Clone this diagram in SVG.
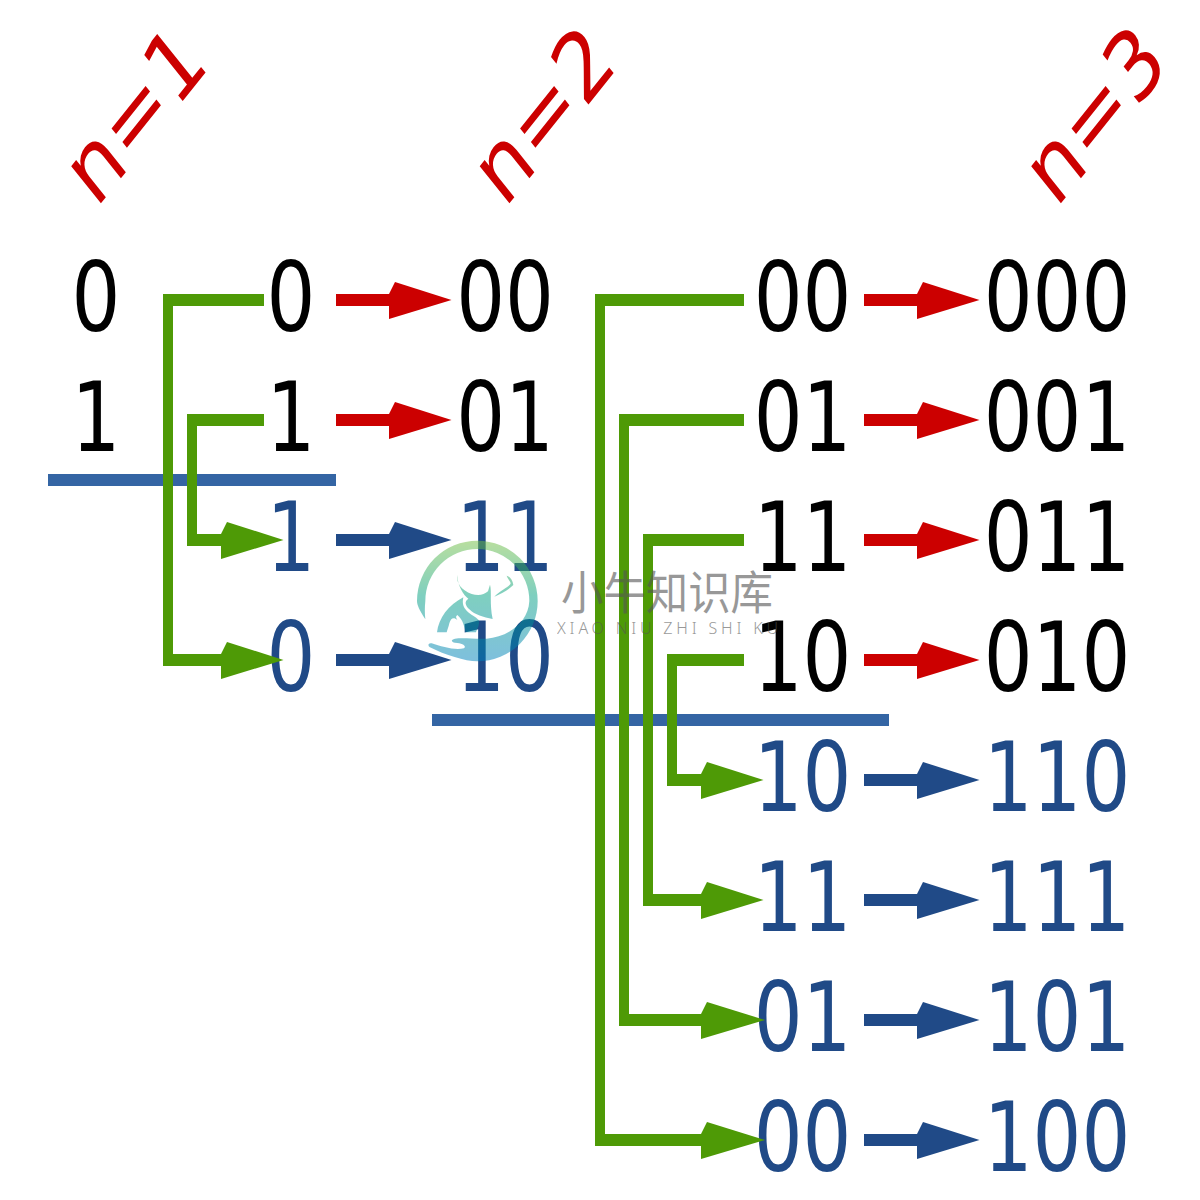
<svg xmlns="http://www.w3.org/2000/svg" width="1200" height="1200" viewBox="0 0 1200 1200">
<style>
text{font-family:"DejaVu Sans","Liberation Sans",sans-serif;font-size:96px}
.d{text-anchor:middle}
.k{fill:#000}.b{fill:#204a87}.r{fill:#cc0000}
.gp{fill:#4e9a06}
.lr{stroke:#cc0000;stroke-width:12}.lb{stroke:#204a87;stroke-width:12}
.sep{stroke:#3465a4;stroke-width:12}
.hr{fill:#cc0000}.hb{fill:#204a87}.hg{fill:#4e9a06}
.wm{fill:#555;opacity:.6;font-family:"Noto Sans CJK SC",sans-serif;font-weight:400}
</style>
<defs>
<polygon id="head" points="0,-6 6,-18 62.500,0 0,19"/>
<linearGradient id="lg" x1="0" y1="62" x2="0" y2="425" gradientUnits="userSpaceOnUse">
<stop offset="0" stop-color="#73bf41"/><stop offset=".45" stop-color="#01a181"/><stop offset="1" stop-color="#0081bd"/>
</linearGradient>
</defs>
<g id="headers">
<text class="r" transform="translate(96,209.500) scale(.8,1) rotate(-45)">n=1</text>
<text class="r" transform="translate(504.500,209.500) scale(.8,1) rotate(-45)">n=2</text>
<text class="r" transform="translate(1056,209.500) scale(.8,1) rotate(-45)">n=3</text>
</g>
<g id="col0">
<text class="d k" transform="translate(96,330.500) scale(.8,1)">0</text>
<text class="d k" transform="translate(96,450.500) scale(.8,1)">1</text>
</g>
<g id="col1">
<text class="d k" transform="translate(291,330.500) scale(.8,1)">0</text>
<text class="d k" transform="translate(291,450.500) scale(.8,1)">1</text>
<text class="d b" transform="translate(291,570.500) scale(.8,1)">1</text>
<text class="d b" transform="translate(291,690.500) scale(.8,1)">0</text>
</g>
<g id="col2">
<text class="d k" transform="translate(505,330.500) scale(.8,1)">00</text>
<text class="d k" transform="translate(505,450.500) scale(.8,1)">01</text>
<text class="d b" transform="translate(505,570.500) scale(.8,1)">11</text>
<text class="d b" transform="translate(505,690.500) scale(.8,1)">10</text>
</g>
<g id="col3">
<text class="d k" transform="translate(802.500,330.500) scale(.8,1)">00</text>
<text class="d k" transform="translate(802.500,450.500) scale(.8,1)">01</text>
<text class="d k" transform="translate(802.500,570.500) scale(.8,1)">11</text>
<text class="d k" transform="translate(802.500,690.500) scale(.8,1)">10</text>
<text class="d b" transform="translate(802.500,810.500) scale(.8,1)">10</text>
<text class="d b" transform="translate(802.500,930.500) scale(.8,1)">11</text>
<text class="d b" transform="translate(802.500,1050.500) scale(.8,1)">01</text>
<text class="d b" transform="translate(802.500,1170.500) scale(.8,1)">00</text>
</g>
<g id="col4">
<text class="d k" transform="translate(1057,330.500) scale(.8,1)">000</text>
<text class="d k" transform="translate(1057,450.500) scale(.8,1)">001</text>
<text class="d k" transform="translate(1057,570.500) scale(.8,1)">011</text>
<text class="d k" transform="translate(1057,690.500) scale(.8,1)">010</text>
<text class="d b" transform="translate(1057,810.500) scale(.8,1)">110</text>
<text class="d b" transform="translate(1057,930.500) scale(.8,1)">111</text>
<text class="d b" transform="translate(1057,1050.500) scale(.8,1)">101</text>
<text class="d b" transform="translate(1057,1170.500) scale(.8,1)">100</text>
</g>
<g id="separators">
<line class="sep" x1="48" y1="480" x2="336" y2="480"/>
<line class="sep" x1="432" y1="720" x2="889" y2="720"/>
</g>
<g id="connectors">
<path class="gp" d="M264,294H163V666H225V654H173V306H264Z"/>
<path class="gp" d="M264,414H187V546H225V534H197V426H264Z"/>
<path class="gp" d="M744,294H595V1146H705V1134H605V306H744Z"/>
<path class="gp" d="M744,414H619V1026H705V1014H629V426H744Z"/>
<path class="gp" d="M744,534H643V906H705V894H653V546H744Z"/>
<path class="gp" d="M744,654H667V786H705V774H677V666H744Z"/>
<use href="#head" class="hg" x="221" y="540"/>
<use href="#head" class="hg" x="221" y="660"/>
<use href="#head" class="hg" x="701" y="780"/>
<use href="#head" class="hg" x="701" y="900"/>
<polygon class="hg" points="701,1014 707,1002 765,1020 701,1039"/>
<polygon class="hg" points="701,1134 707,1122 765,1140 701,1159"/>
<line class="lr" x1="336" y1="300" x2="392" y2="300"/><use href="#head" class="hr" x="389" y="300"/>
<line class="lr" x1="336" y1="420" x2="392" y2="420"/><use href="#head" class="hr" x="389" y="420"/>
<line class="lb" x1="336" y1="540" x2="392" y2="540"/><use href="#head" class="hb" x="389" y="540"/>
<line class="lb" x1="336" y1="660" x2="392" y2="660"/><use href="#head" class="hb" x="389" y="660"/>
<line class="lr" x1="864" y1="300" x2="920" y2="300"/><use href="#head" class="hr" x="917" y="300"/>
<line class="lr" x1="864" y1="420" x2="920" y2="420"/><use href="#head" class="hr" x="917" y="420"/>
<line class="lr" x1="864" y1="540" x2="920" y2="540"/><use href="#head" class="hr" x="917" y="540"/>
<line class="lr" x1="864" y1="660" x2="920" y2="660"/><use href="#head" class="hr" x="917" y="660"/>
<line class="lb" x1="864" y1="780" x2="920" y2="780"/><use href="#head" class="hb" x="917" y="780"/>
<line class="lb" x1="864" y1="900" x2="920" y2="900"/><use href="#head" class="hb" x="917" y="900"/>
<line class="lb" x1="864" y1="1020" x2="920" y2="1020"/><use href="#head" class="hb" x="917" y="1020"/>
<line class="lb" x1="864" y1="1140" x2="920" y2="1140"/><use href="#head" class="hb" x="917" y="1140"/>
</g>
<g id="watermark">
<g transform="translate(400,520) scale(.33333)" opacity=".5" fill="url(#lg)">
<path d="M76,298C58,270 51,255 51,243A181,181 0 1 1 232,424C195,424 135,405 90,382C82,376 85,368 95,370C125,380 165,392 192,385C200,378 190,370 165,368C155,366 150,360 165,356C190,352 225,358 260,356C320,352 385,310 388,243A156,156 0 1 0 76,243C74,262 74,280 76,298Z"/>
<path d="M172,165C168,190 185,210 215,222C235,228 252,225 264,214L270,194C276,215 268,250 278,297C250,292 225,285 208,268C196,256 192,245 205,236C190,226 172,195 172,165Z"/>
<path d="M111,337C116,295 145,255 190,232C186,250 190,262 200,272C212,285 228,290 236,300C240,315 232,325 228,337H197C192,318 190,300 172,285C165,290 170,295 172,300C160,290 152,296 148,310C146,320 142,330 140,337Z"/>
<path d="M320,167C330,170 338,180 340,195C325,210 305,220 283,230C300,212 330,200 332,190C330,182 322,175 320,167Z"/>
</g>
<text class="wm" x="561" y="609" textLength="212" lengthAdjust="spacingAndGlyphs" style="font-size:46px">小牛知识库</text>
<text class="wm" x="557" y="634" textLength="221" style="font-size:16px;font-family:'Noto Sans',sans-serif;font-weight:300">XIAO NIU ZHI SHI KU</text>
</g>
</svg>
